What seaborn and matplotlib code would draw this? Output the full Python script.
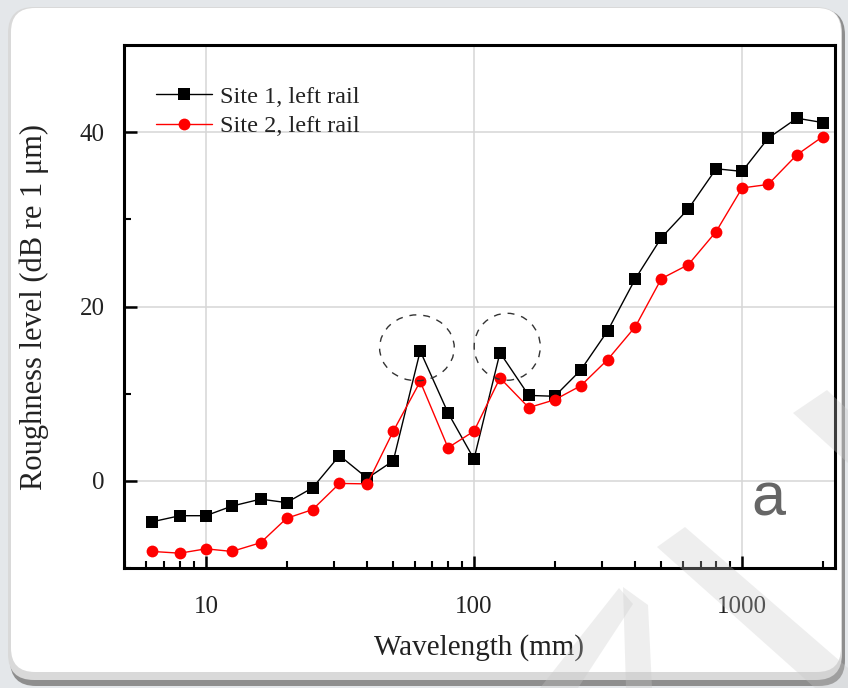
import numpy as np
import pandas as pd
import matplotlib
matplotlib.use("Agg")
import matplotlib.pyplot as plt
import seaborn as sns
from matplotlib.patches import FancyBboxPatch, Ellipse, Polygon

# One-third octave band centre wavelengths (mm)
wavelength = [6.3, 8, 10, 12.5, 16, 20, 25, 31.5, 40, 50, 63, 80, 100, 125,
              160, 200, 250, 315, 400, 500, 630, 800, 1000, 1250, 1600, 2000]

# Roughness level spectra (dB re 1 um)
site1_left = [-4.7, -4.0, -4.0, -2.9, -2.1, -2.5, -0.8, 2.9, 0.3, 2.3, 14.9, 7.8,
              2.5, 14.7, 9.8, 9.7, 12.7, 17.2, 23.2, 27.9, 31.2, 35.8, 35.5,
              39.3, 41.6, 41.1]
site2_left = [-8.1, -8.3, -7.8, -8.1, -7.1, -4.3, -3.3, -0.3, -0.35, 5.7, 11.4, 3.8,
              5.7, 11.8, 8.4, 9.3, 10.9, 13.9, 17.7, 23.2, 24.8, 28.6, 33.6,
              34.0, 37.4, 39.5]

series_names = ["Site 1, left rail", "Site 2, left rail"]
x_ticks = [10, 100, 1000]
y_ticks = [0, 20, 40]

df = pd.DataFrame({
    "Wavelength": wavelength * 2,
    "Level": site1_left + site2_left,
    "Series": [series_names[0]] * len(wavelength) + [series_names[1]] * len(wavelength),
})

sns.set_theme(style="white")
plt.rcParams["font.family"] = ["Liberation Serif", "DejaVu Serif"]

W, H = 848, 688
fig = plt.figure(figsize=(W / 100, H / 100), dpi=100)
fig.patch.set_facecolor("#e4e7ea")

# rounded card behind the chart
bg = fig.add_axes([0, 0, 1, 1], zorder=-5)
bg.set_xlim(0, W)
bg.set_ylim(H, 0)
bg.axis("off")
bg.add_patch(FancyBboxPatch((10, 9), 835, 677, boxstyle="round,pad=0,rounding_size=26",
                            facecolor="#8e8e8e", edgecolor="none"))
bg.add_patch(FancyBboxPatch((8, 7), 834, 673, boxstyle="round,pad=0,rounding_size=26",
                            facecolor="#d9d9d9", edgecolor="none"))
bg.add_patch(FancyBboxPatch((11, 8), 830, 664, boxstyle="round,pad=0,rounding_size=24",
                            facecolor="white", edgecolor="none"))

ax = fig.add_axes([124 / W, 1 - 568 / H, (835 - 124) / W, (568 - 45) / H])
ax.set_facecolor("white")

sns.lineplot(data=df, x="Wavelength", y="Level", hue="Series", style="Series",
             palette={series_names[0]: "black", series_names[1]: "#ff0000"},
             markers={series_names[0]: "s", series_names[1]: "o"},
             dashes=False, linewidth=1.0, markersize=8.5, markeredgewidth=0,
             ax=ax, legend=True)

ax.set_xscale("log")
ax.set_xlim(4.95, 2220)
ax.set_ylim(-10, 50)
ax.set_xticks(x_ticks)
ax.set_xticklabels([str(v) for v in x_ticks])
ax.set_yticks(y_ticks)
ax.set_yticklabels([str(v) for v in y_ticks])
ax.yaxis.set_minor_locator(matplotlib.ticker.FixedLocator([-10, 10, 30]))
ax.xaxis.set_minor_locator(matplotlib.ticker.LogLocator(base=10, subs=np.arange(2, 10)))
ax.xaxis.set_minor_formatter(matplotlib.ticker.NullFormatter())

ax.grid(True, which="major", color="#d6d6d6", linewidth=1.1)
ax.tick_params(which="major", direction="in", length=9, width=1.8, colors="black",
               labelsize=18, labelcolor="#222222", top=False, right=False,
               bottom=True, left=True)
ax.tick_params(axis="x", which="major", pad=20)
ax.tick_params(axis="y", which="major", pad=14)
ax.tick_params(which="minor", direction="in", length=5, width=1.5, colors="black",
               top=False, right=False, bottom=True, left=True)
for s in ax.spines.values():
    s.set_visible(True)
    s.set_color("black")
    s.set_linewidth(2.2)

ax.set_xlabel("Wavelength (mm)", fontsize=21, color="#222222", labelpad=12)
ax.set_ylabel("Roughness level (dB re 1 \u03bcm)", fontsize=22, color="#222222", labelpad=22)

handles, labels = ax.get_legend_handles_labels()
ax.legend(handles, labels, loc="upper left", bbox_to_anchor=(0.028, 0.945),
          frameon=False, fontsize=17.5, handlelength=2.3, handletextpad=0.35,
          labelspacing=0.3, borderpad=0, labelcolor="#222222")

# dashed rings around the two peaks
for cx, cy, w, h in [(0.412, 0.421, 0.105, 0.126), (0.539, 0.423, 0.093, 0.128)]:
    ax.add_patch(Ellipse((cx, cy), w, h, transform=ax.transAxes, fill=False,
                         edgecolor="#333333", linewidth=1.0, linestyle=(0, (5, 5)),
                         zorder=4))

ax.text(0.906, 0.13, "a", transform=ax.transAxes, ha="center", va="center",
        fontsize=44, color="#666666", family=["Liberation Sans", "DejaVu Sans"])

# faint diagonal stripes across the lower right corner
fg = fig.add_axes([0, 0, 1, 1], zorder=10)
fg.set_xlim(0, W)
fg.set_ylim(H, 0)
fg.axis("off")
fg.patch.set_alpha(0)
stripes = [
    [(793, 413), (827, 390), (848, 410), (848, 463)],
    [(657, 547), (685, 527), (848, 668), (848, 688), (815, 688)],
    [(540, 688), (619, 588), (633, 604), (578, 688)],
    [(623, 587), (648, 605), (652, 688), (626, 688)],
]
for pts in stripes:
    fg.add_patch(Polygon(pts, closed=True, facecolor="#c8c8c8", edgecolor="none", alpha=0.3))

fig.savefig("out.png", dpi=100)
